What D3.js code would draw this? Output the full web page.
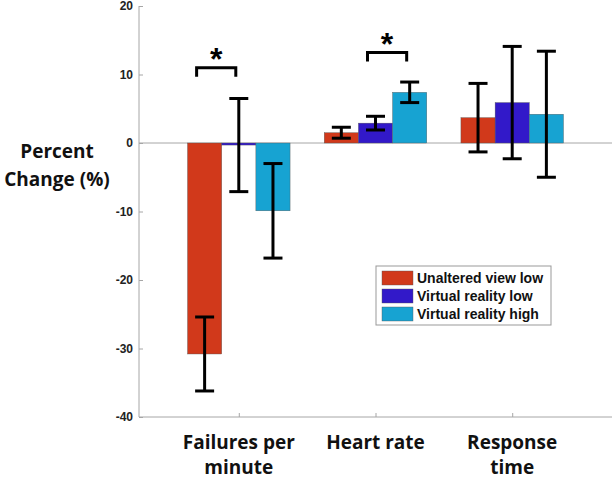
<!DOCTYPE html>
<html>
<head>
<meta charset="utf-8">
<script src="https://cdn.jsdelivr.net/npm/d3@7"></script>
<style>
  body { margin: 0; background: #fff; }
  svg text { font-family: "Liberation Sans", Arial, sans-serif; }
  .big { font-family: "Open Sans", Lato, sans-serif !important; }
</style>
</head>
<body>
<div id="chart"></div>
<script>
// categories and series
var categories = [["Failures per", "minute"], ["Heart rate"], ["Response", "time"]];
var seriesNames = ["Unaltered view low", "Virtual reality low", "Virtual reality high"];
var seriesColors = ["#d1391b", "#3219c9", "#17a3d2"];

// mean percent change, per series (rows) and category (cols)
var unalteredLow = [-30.8, 1.5, 3.7];
var vrLow = [-0.3, 2.9, 5.9];
var vrHigh = [-9.9, 7.4, 4.2];

// error bar half widths
var unalteredLowErr = [5.4, 0.8, 5.0];
var vrLowErr = [6.8, 1.0, 8.2];
var vrHighErr = [6.9, 1.5, 9.2];

var yTicks = [20, 10, 0, -10, -20, -30, -40];

// significance: category index, from series, to series, level
var sigBrackets = [
  { cat: 0, from: 0, to: 1, y: 11 },
  { cat: 1, from: 1, to: 2, y: 13.2 }
];

var values = [unalteredLow, vrLow, vrHigh];
var errors = [unalteredLowErr, vrLowErr, vrHighErr];

var width = 615, height = 480;
var svg = d3.select("#chart").append("svg")
  .attr("width", width)
  .attr("height", height);

var x = d3.scaleLinear().domain([-0.73, 2.73]).range([139, 612]);
var y = d3.scaleLinear().domain([-40, 20]).range([417, 6]);
var barW = 0.25;

function barX(cat, s) { return cat + (s - 1) * barW; }

// axes
var axisColor = "#a6a6a6";
var yAxis = svg.append("g")
  .attr("transform", "translate(" + x(-0.73) + ",0)")
  .call(d3.axisLeft(y).tickValues(yTicks).tickSize(-4).tickPadding(6)
    .tickFormat(function (d) { return String(d); }));
yAxis.select(".domain").attr("stroke", axisColor).attr("d", "M0," + y(20) + "V" + y(-40));
yAxis.selectAll(".tick line").attr("stroke", axisColor);
yAxis.selectAll(".tick text")
  .attr("font-size", 12).attr("font-weight", "bold").attr("fill", "#222");

var xAxis = svg.append("g")
  .attr("transform", "translate(0," + y(-40) + ")")
  .call(d3.axisBottom(x).tickValues([0, 1, 2]).tickSize(-4).tickFormat(""));
xAxis.select(".domain").attr("stroke", axisColor).attr("d", "M" + x(-0.73) + ",0H" + x(2.73));
xAxis.selectAll(".tick line").attr("stroke", axisColor);

// category labels
categories.forEach(function (lines, i) {
  var t = svg.append("text")
    .attr("class", "big")
    .attr("x", x(i))
    .attr("y", 449)
    .attr("text-anchor", "middle")
    .attr("font-size", 19)
    .attr("font-weight", "bold")
    .attr("fill", "#111");
  lines.forEach(function (l, j) {
    t.append("tspan").attr("x", x(i)).attr("dy", j ? 25 : 0).text(l);
  });
});

// y label
var yl = svg.append("text")
  .attr("class", "big")
  .attr("x", 57).attr("y", 158)
  .attr("text-anchor", "middle")
  .attr("font-size", 19).attr("font-weight", "bold").attr("fill", "#111");
yl.append("tspan").attr("x", 57).text("Percent");
yl.append("tspan").attr("x", 57).attr("dy", 28).text("Change (%)");

// zero line
svg.append("line")
  .attr("x1", x(-0.73)).attr("x2", x(2.73))
  .attr("y1", y(0)).attr("y2", y(0))
  .attr("stroke", axisColor).attr("stroke-width", 1);

// bars
var bars = [];
values.forEach(function (arr, s) {
  arr.forEach(function (v, c) {
    bars.push({ s: s, c: c, v: v, e: errors[s][c] });
  });
});

svg.selectAll("rect.bar").data(bars).enter().append("rect")
  .attr("class", "bar")
  .attr("x", function (d) { return x(barX(d.c, d.s) - barW / 2); })
  .attr("width", function (d) { return x(barW) - x(0); })
  .attr("y", function (d) { return y(Math.max(0, d.v)); })
  .attr("height", function (d) { return Math.abs(y(d.v) - y(0)); })
  .attr("fill", function (d) { return seriesColors[d.s]; })
  .attr("stroke", "#555")
  .attr("stroke-width", 0.4);

// error bars
var capW = 9.5;
var eb = svg.selectAll("g.err").data(bars).enter().append("g").attr("class", "err")
  .attr("stroke", "#000").attr("stroke-width", 3);
eb.append("line")
  .attr("x1", function (d) { return x(barX(d.c, d.s)); })
  .attr("x2", function (d) { return x(barX(d.c, d.s)); })
  .attr("y1", function (d) { return y(d.v + d.e); })
  .attr("y2", function (d) { return y(d.v - d.e); });
eb.append("line")
  .attr("x1", function (d) { return x(barX(d.c, d.s)) - capW; })
  .attr("x2", function (d) { return x(barX(d.c, d.s)) + capW; })
  .attr("y1", function (d) { return y(d.v + d.e); })
  .attr("y2", function (d) { return y(d.v + d.e); });
eb.append("line")
  .attr("x1", function (d) { return x(barX(d.c, d.s)) - capW; })
  .attr("x2", function (d) { return x(barX(d.c, d.s)) + capW; })
  .attr("y1", function (d) { return y(d.v - d.e); })
  .attr("y2", function (d) { return y(d.v - d.e); });

// significance brackets
sigBrackets.forEach(function (b) {
  var x1 = x(barX(b.cat, b.from)) - 8, x2 = x(barX(b.cat, b.to)) - 3;
  svg.append("path")
    .attr("d", "M" + x1 + "," + (y(b.y) + 9) + "V" + y(b.y) + "H" + x2 + "V" + (y(b.y) + 9))
    .attr("fill", "none").attr("stroke", "#000").attr("stroke-width", 3);
  svg.append("text")
    .attr("x", (x1 + x2) / 2).attr("y", y(b.y) + 2)
    .attr("text-anchor", "middle")
    .attr("font-size", 32).attr("font-weight", "bold")
    .text("*");
});

// legend
var lg = svg.append("g").attr("transform", "translate(376,266)");
lg.append("rect").attr("width", 175).attr("height", 59)
  .attr("fill", "#fff").attr("stroke", "#999").attr("stroke-width", 1);
seriesNames.forEach(function (n, i) {
  var row = lg.append("g").attr("transform", "translate(6," + (5 + i * 18) + ")");
  row.append("rect").attr("width", 31).attr("height", 14)
    .attr("fill", seriesColors[i]).attr("stroke", "#555").attr("stroke-width", 0.4);
  row.append("text").attr("x", 35).attr("y", 12)
    .attr("font-size", 14).attr("font-weight", "bold").attr("fill", "#111")
    .text(n);
});
</script>
</body>
</html>
